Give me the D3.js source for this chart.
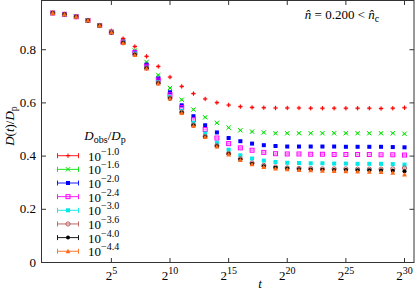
<!DOCTYPE html>
<html><head><meta charset="utf-8">
<script src="https://cdn.jsdelivr.net/npm/d3@7"></script>
<style>body{margin:0;background:#fff}svg{display:block}</style>
</head><body><svg id="c" width="415" height="291"></svg>
<script>
const exponents = d3.range(0, 31); // t = 2^k
const seriesLabels = ["-1.0","-1.6","-2.0","-2.4","-3.0","-3.6","-4.0","-4.4"];
const s1 = [.938,.933,.924,.911,.892,.871,.842,.812,.775,.737,.697,.662,.635,.615,.601,.592,.586,.583,.582,.581,.581,.581,.580,.580,.580,.580,.580,.580,.579,.580,.582];
const s2 = [.938,.933,.924,.910,.891,.867,.832,.797,.754,.705,.656,.612,.575,.546,.525,.507,.497,.492,.489,.486,.486,.486,.486,.486,.486,.486,.486,.486,.486,.486,.484];
const s3 = [.938,.933,.924,.910,.891,.866,.830,.792,.744,.692,.640,.591,.550,.516,.489,.468,.456,.447,.441,.438,.436,.436,.436,.436,.436,.435,.435,.435,.435,.434,.433];
const s4 = [.938,.933,.924,.910,.891,.866,.828,.789,.738,.686,.631,.583,.537,.500,.468,.447,.431,.422,.414,.409,.408,.408,.407,.407,.406,.406,.406,.406,.405,.405,.404];
const s5 = [.938,.933,.924,.910,.891,.866,.827,.786,.733,.678,.622,.570,.525,.485,.450,.424,.403,.391,.383,.378,.375,.374,.373,.373,.372,.372,.371,.371,.371,.370,.368];
const s6 = [.938,.933,.924,.910,.891,.866,.826,.782,.731,.675,.618,.565,.517,.474,.439,.410,.390,.374,.365,.359,.356,.354,.353,.352,.352,.352,.351,.351,.351,.352,.355];
const s7 = [.938,.933,.924,.910,.891,.865,.826,.781,.730,.674,.617,.563,.515,.472,.437,.408,.387,.371,.362,.356,.353,.351,.350,.349,.348,.348,.347,.347,.346,.345,.343];
const s8 = [.938,.933,.924,.910,.891,.865,.825,.780,.729,.673,.616,.562,.514,.471,.436,.406,.385,.369,.359,.353,.350,.347,.346,.345,.344,.343,.342,.341,.340,.337,.330];
const errors = [.003,.002,.002,.002,.002,.002,.002,.002];
const xTicks = [5,10,15,20,25,30];
const yTicks = [0,0.2,0.4,0.6,0.8];
const yTickLabels = ["0","0.2","0.4","0.6","0.8"];

const allSeries = [s1,s2,s3,s4,s5,s6,s7,s8];
const colors = ["#ff0000","#00e000","#0000ff","#ff00ff","#00e8e8","#b85a5a","#000000","#ff6a1a"];
const markers = ["plus","cross","fsquare","osquare","fsquare","ocircle","fcircle","ftriangle"];
const FONT = "Liberation Serif";

const svg = d3.select("#c");
const L=41.5, R=414, T=0.5, B=262.5;
const x = d3.scaleLinear().domain([-0.96, 30.81]).range([L, R]);
const y = d3.scaleLinear().domain([0, 0.985]).range([B, T]);

function txt(sel){ return sel.append("text").style("font-family",FONT).attr("fill","#000"); }

// ticks
const g = svg.append("g");
const tickLen = 4.5;
xTicks.forEach(k=>{
  g.append("line").attr("x1",x(k)).attr("x2",x(k)).attr("y1",B).attr("y2",B-tickLen).attr("stroke","#333");
  g.append("line").attr("x1",x(k)).attr("x2",x(k)).attr("y1",T).attr("y2",T+tickLen).attr("stroke","#333");
  const t = txt(g).attr("x",x(k)).attr("y",280).attr("text-anchor","middle").style("font-size","13px");
  t.append("tspan").text("2");
  t.append("tspan").attr("dy",-6).style("font-size","10px").text(k);
});
yTicks.forEach((v,i)=>{
  g.append("line").attr("x1",L).attr("x2",L+tickLen).attr("y1",y(v)).attr("y2",y(v)).attr("stroke","#333");
  g.append("line").attr("x1",R).attr("x2",R-tickLen).attr("y1",y(v)).attr("y2",y(v)).attr("stroke","#333");
  txt(g).attr("x",36).attr("y",y(v)+4).attr("text-anchor","end").style("font-size","13px").text(yTickLabels[i]);
});
svg.append("rect").attr("x",L).attr("y",T).attr("width",R-L).attr("height",B-T).attr("fill","none").attr("stroke","#333").attr("stroke-width",1);

// axis labels
txt(svg).attr("x",260).attr("y",288).attr("text-anchor","middle").style("font-size","13px").style("font-style","italic").text("t");
const yl = txt(svg).attr("transform","translate(14,126) rotate(-90)").attr("text-anchor","middle").style("font-size","13px");
yl.append("tspan").style("font-style","italic").text("D");
yl.append("tspan").text("(");
yl.append("tspan").style("font-style","italic").text("t");
yl.append("tspan").text(")/");
yl.append("tspan").style("font-style","italic").text("D");
yl.append("tspan").attr("dy",3).style("font-size","10px").text("p");

// annotation
const an = txt(svg).attr("x",342).attr("y",19).attr("text-anchor","middle").style("font-size","13px");
an.append("tspan").style("font-style","italic").text("n\u0302");
an.append("tspan").text(" = 0.200 < ");
an.append("tspan").style("font-style","italic").text("n\u0302");
an.append("tspan").attr("dy",3).style("font-size","10px").text("c");

function drawMarker(sel, type, cx, cy, color){
  const s=2.2;
  if(type==="plus"){
    sel.append("path").attr("d",`M${cx-s},${cy}H${cx+s}M${cx},${cy-s}V${cy+s}`).attr("stroke",color).attr("stroke-width",1).attr("fill","none");
  } else if(type==="cross"){
    sel.append("path").attr("d",`M${cx-s},${cy-s}L${cx+s},${cy+s}M${cx-s},${cy+s}L${cx+s},${cy-s}`).attr("stroke",color).attr("stroke-width",1).attr("fill","none");
  } else if(type==="fsquare"){
    sel.append("rect").attr("x",cx-2).attr("y",cy-2).attr("width",4).attr("height",4).attr("fill",color);
  } else if(type==="osquare"){
    sel.append("rect").attr("x",cx-2).attr("y",cy-2).attr("width",4).attr("height",4).attr("fill","none").attr("stroke",color).attr("stroke-width",1);
  } else if(type==="ocircle"){
    sel.append("circle").attr("cx",cx).attr("cy",cy).attr("r",2.1).attr("fill","none").attr("stroke",color).attr("stroke-width",1);
  } else if(type==="fcircle"){
    sel.append("circle").attr("cx",cx).attr("cy",cy).attr("r",2).attr("fill",color);
  } else if(type==="ftriangle"){
    sel.append("path").attr("d",`M${cx},${cy-2.4}L${cx+2.4},${cy+1.9}L${cx-2.4},${cy+1.9}Z`).attr("fill",color);
  }
}

// data
const dg = svg.append("g");
allSeries.forEach((vals,si)=>{
  const sg = dg.append("g");
  vals.forEach((v,i)=>{
    const cx=x(exponents[i]), cy=y(v);
    const e=errors[si];
    sg.append("path").attr("d",`M${cx},${y(v-e)}V${y(v+e)}M${cx-1.8},${y(v-e)}H${cx+1.8}M${cx-1.8},${y(v+e)}H${cx+1.8}`).attr("stroke",colors[si]).attr("stroke-width",0.6).attr("stroke-opacity",0.7).attr("fill","none");
    drawMarker(sg, markers[si], cx, cy, colors[si]);
  });
});

// legend
const lt = txt(svg).attr("x",105).attr("y",140).attr("text-anchor","middle").style("font-size","13px");
lt.append("tspan").style("font-style","italic").text("D");
lt.append("tspan").attr("dy",3).style("font-size","10px").text("obs");
lt.append("tspan").attr("dy",-3).text("/");
lt.append("tspan").style("font-style","italic").text("D");
lt.append("tspan").attr("dy",3).style("font-size","10px").text("p");
seriesLabels.forEach((lab,i)=>{
  const yy = 155.7 + i*13.65;
  const lg = svg.append("g");
  lg.append("path").attr("d",`M57.5,${yy}H78.5M57.5,${yy-2.5}V${yy+2.5}M78.5,${yy-2.5}V${yy+2.5}`).attr("stroke",colors[i]).attr("stroke-width",0.9).attr("fill","none");
  drawMarker(lg, markers[i], 68, yy, colors[i]);
  const t = txt(lg).attr("x",88).attr("y",yy+5).style("font-size","13px");
  t.append("tspan").text("10");
  t.append("tspan").attr("dy",-6).style("font-size","10px").text(lab.replace("-","\u2212"));
});
</script></body></html>
